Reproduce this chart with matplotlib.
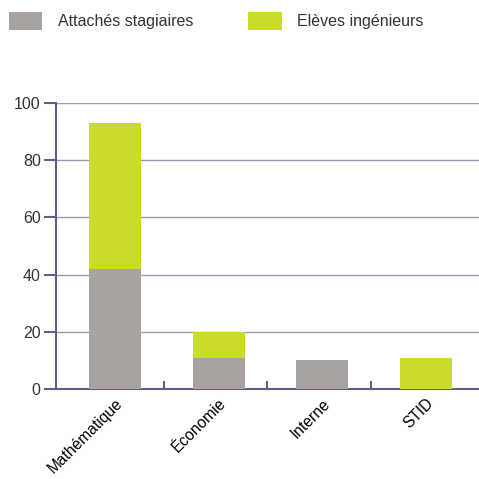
import matplotlib
matplotlib.use("Agg")
from matplotlib import pyplot as plt
import numpy as np

categories = ["Mathématique", "Économie", "Interne", "STID"]
attaches = [42, 11, 10, 0]
eleves = [51, 9, 0, 11]
yticks = [0, 20, 40, 60, 80, 100]

gray = "#a8a2a0"
green = "#cbdb2a"
axis_col = "#5e5e86"
grid_col = "#9a9ab8"

plt.rcParams["font.family"] = ["Liberation Sans", "DejaVu Sans"]
plt.rcParams["text.color"] = "#333333"

fig = plt.figure(figsize=(4.79, 4.79), dpi=100)
ax = fig.add_axes([56 / 479, 1 - 389 / 479, 426 / 479, 286 / 479])

x = np.arange(len(categories))
b1 = ax.bar(x, attaches, width=0.5, color=gray, label="Attachés stagiaires",
            zorder=3)
b2 = ax.bar(x, eleves, width=0.5, bottom=attaches, color=green,
            label="Elèves ingénieurs", zorder=3)

ax.set_xlim(-0.57, 3.54)
ax.set_ylim(0, 100)
ax.set_yticks(yticks)
ax.yaxis.grid(True, color=grid_col, linewidth=1)
ax.set_axisbelow(True)
for s in ["top", "right"]:
    ax.spines[s].set_visible(False)
for s in ["left", "bottom"]:
    ax.spines[s].set_color(axis_col)
    ax.spines[s].set_linewidth(1.5)
ax.tick_params(axis="y", colors=axis_col, labelcolor="#333333", length=9,
               width=1.5, labelsize=11.5, pad=2)

ax.set_xticks(x)
ax.set_xticklabels(categories, rotation=45, ha="right", rotation_mode="anchor",
                   fontsize=11.2)
ax.tick_params(axis="x", length=0, pad=5)
ax.set_xticks(x[:-1] + 0.47, minor=True)
ax.tick_params(axis="x", which="minor", direction="in", length=6, width=1.5,
               colors=axis_col)

fig.legend(handles=[b1, b2], loc="upper left", bbox_to_anchor=(0.0, 0.993),
           ncol=2, frameon=False, fontsize=11.5, handlelength=2.1,
           handleheight=1.3, handletextpad=1.0, columnspacing=3.4,
           borderaxespad=0.15)

fig.savefig("out.png", dpi=100)
